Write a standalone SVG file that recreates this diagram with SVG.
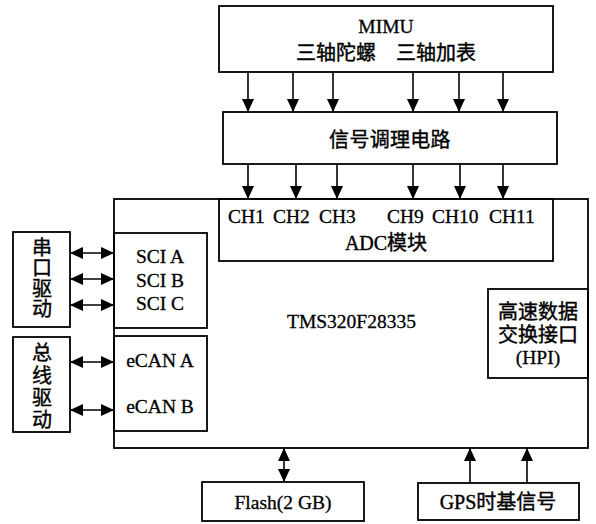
<svg xmlns="http://www.w3.org/2000/svg" width="596" height="524" viewBox="0 0 596 524">
<defs>
<style>
.box{fill:none;stroke:#000;stroke-width:1.8}
.ln{fill:none;stroke:#000;stroke-width:1.6}
.t{font-family:"Liberation Serif","Noto Sans CJK SC",serif;font-size:19.5px;fill:#000;stroke:#000;stroke-width:0.3}
.c{font-family:"Liberation Serif","Noto Sans CJK SC",serif;font-size:20px;fill:#000;stroke:#000;stroke-width:0.4}
.m{text-anchor:middle}
</style>
<marker id="ah" markerUnits="userSpaceOnUse" markerWidth="13" markerHeight="13" refX="13" refY="6.5" orient="auto-start-reverse">
<path d="M0,0.5 L13,6.5 L0,12.5 z" fill="#000"/>
</marker>
</defs>
<rect width="596" height="524" fill="#fff"/>

<g id="mimu">
<rect class="box" x="219" y="6" width="334" height="66"/>
<text class="t m" x="386" y="33">MIMU</text>
<text class="c m" x="386" y="60">三轴陀螺　三轴加表</text>
</g>

<g id="signal">
<rect class="box" x="223" y="112" width="334" height="52"/>
<text class="c m" x="390" y="147" letter-spacing="0.3">信号调理电路</text>
</g>

<g id="tms">
<rect class="box" x="114" y="199" width="474" height="249"/>
<text class="t" x="287" y="328">TMS320F28335</text>
</g>

<g id="adc">
<rect class="box" x="219" y="199" width="334" height="62"/>
<text class="t" x="228" y="223">CH1</text>
<text class="t" x="273" y="223">CH2</text>
<text class="t" x="319" y="223">CH3</text>
<text class="t" x="387" y="223">CH9</text>
<text class="t" x="432" y="223">CH10</text>
<text class="t" x="489" y="223">CH11</text>
<text class="c m" x="386" y="250">ADC模块</text>
</g>

<g id="sci">
<rect class="box" x="114" y="233" width="93" height="95"/>
<text class="t m" x="160" y="263">SCI A</text>
<text class="t m" x="160" y="287">SCI B</text>
<text class="t m" x="160" y="310">SCI C</text>
</g>

<g id="ecan">
<rect class="box" x="114" y="336" width="93" height="95"/>
<text class="t m" x="160" y="367">eCAN A</text>
<text class="t m" x="160" y="413">eCAN B</text>
</g>

<g id="serial">
<rect class="box" x="13" y="232" width="57" height="95"/>
<text class="c m" x="42" y="255">串</text>
<text class="c m" x="42" y="275">口</text>
<text class="c m" x="42" y="296">驱</text>
<text class="c m" x="42" y="316">动</text>
</g>

<g id="bus">
<rect class="box" x="13" y="337" width="57" height="95"/>
<text class="c m" x="42" y="360">总</text>
<text class="c m" x="42" y="383">线</text>
<text class="c m" x="42" y="405">驱</text>
<text class="c m" x="42" y="427">动</text>
</g>

<g id="hpi">
<rect class="box" x="488" y="289" width="100" height="89"/>
<text class="c m" x="538" y="319">高速数据</text>
<text class="c m" x="538" y="342">交换接口</text>
<text class="t m" x="538" y="364">(HPI)</text>
</g>

<g id="flash">
<rect class="box" x="202" y="482" width="162" height="39"/>
<text class="t m" x="283" y="509">Flash(2 GB)</text>
</g>

<g id="gps">
<rect class="box" x="418" y="483" width="161" height="37"/>
<text class="c m" x="498" y="509">GPS时基信号</text>
</g>

<g id="connectors">
<line class="ln" x1="248" y1="72" x2="248" y2="112" marker-end="url(#ah)"/>
<line class="ln" x1="293" y1="72" x2="293" y2="112" marker-end="url(#ah)"/>
<line class="ln" x1="333" y1="72" x2="333" y2="112" marker-end="url(#ah)"/>
<line class="ln" x1="413" y1="72" x2="413" y2="112" marker-end="url(#ah)"/>
<line class="ln" x1="459" y1="72" x2="459" y2="112" marker-end="url(#ah)"/>
<line class="ln" x1="503" y1="72" x2="503" y2="112" marker-end="url(#ah)"/>

<line class="ln" x1="248" y1="164" x2="248" y2="199" marker-end="url(#ah)"/>
<line class="ln" x1="296" y1="164" x2="296" y2="199" marker-end="url(#ah)"/>
<line class="ln" x1="337" y1="164" x2="337" y2="199" marker-end="url(#ah)"/>
<line class="ln" x1="413" y1="164" x2="413" y2="199" marker-end="url(#ah)"/>
<line class="ln" x1="460" y1="164" x2="460" y2="199" marker-end="url(#ah)"/>
<line class="ln" x1="503" y1="164" x2="503" y2="199" marker-end="url(#ah)"/>

<line class="ln" x1="70" y1="253" x2="114" y2="253" marker-start="url(#ah)" marker-end="url(#ah)"/>
<line class="ln" x1="70" y1="279" x2="114" y2="279" marker-start="url(#ah)" marker-end="url(#ah)"/>
<line class="ln" x1="70" y1="305" x2="114" y2="305" marker-start="url(#ah)" marker-end="url(#ah)"/>
<line class="ln" x1="70" y1="362" x2="114" y2="362" marker-start="url(#ah)" marker-end="url(#ah)"/>
<line class="ln" x1="70" y1="410" x2="114" y2="410" marker-start="url(#ah)" marker-end="url(#ah)"/>

<line class="ln" x1="284" y1="448" x2="284" y2="482" marker-start="url(#ah)" marker-end="url(#ah)"/>
<line class="ln" x1="470" y1="483" x2="470" y2="448" marker-end="url(#ah)"/>
<line class="ln" x1="527" y1="483" x2="527" y2="448" marker-end="url(#ah)"/>
</g>
</svg>
